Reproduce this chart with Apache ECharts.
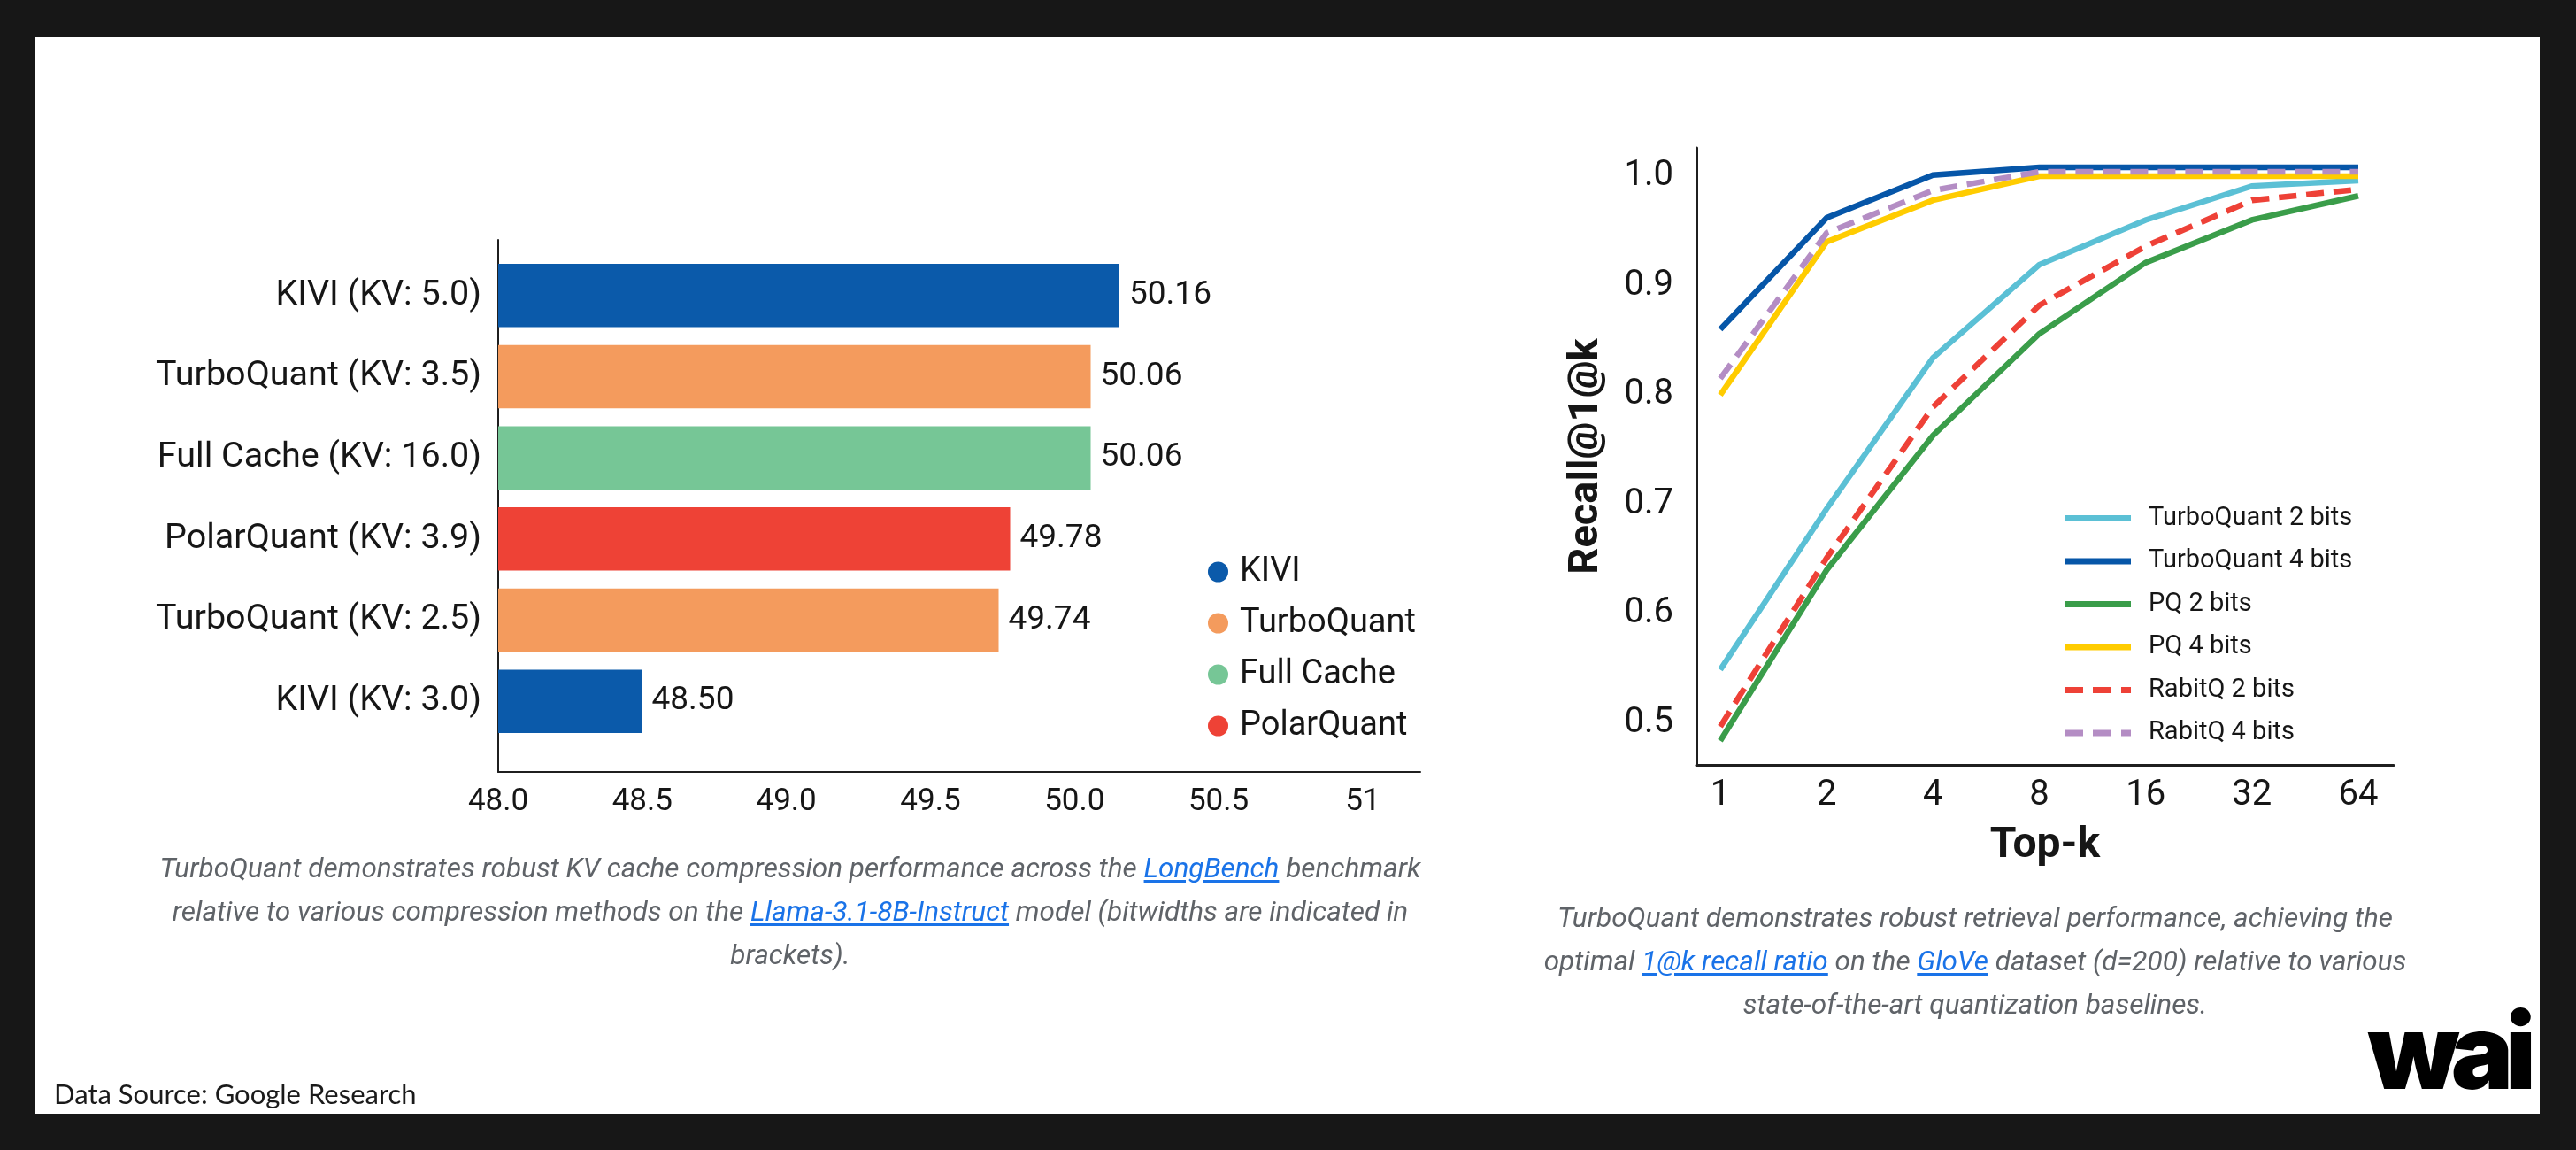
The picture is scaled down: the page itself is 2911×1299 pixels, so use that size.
<!DOCTYPE html>
<html>
<head>
<meta charset="utf-8">
<script src="https://cdn.jsdelivr.net/npm/echarts@6/dist/echarts.min.js"></script>
<style>
  html, body { margin: 0; padding: 0; background: #171717; }
  body { width: 2911px; height: 1299px; position: relative; overflow: hidden; font-family: Roboto, sans-serif; }
  #panel { position: absolute; left: 40px; top: 42px; width: 2830px; height: 1216px; background: #fff; }
  #main { position: absolute; left: 0; top: 0; width: 2911px; height: 1299px; }
  .caption { position: absolute; font-style: italic; font-size: 31.5px; color: #5f6368; text-align: center; white-space: nowrap; line-height: 49px; transform: translateX(-50%); }
  .caption a { color: #1a73e8; text-decoration: underline; text-underline-offset: 3px; }
  #source { position: absolute; left: 61px; top: 1216px; font-family: Lato, sans-serif; font-size: 31px; color: #1a1a1a; }
  #logo { position: absolute; right: 54px; top: 1128px; font-family: Inter, sans-serif; font-weight: 900; font-size: 118px; letter-spacing: -9px; color: #000; line-height: 1; }
</style>
</head>
<body>
<div id="panel"></div>
<div id="main"></div>
<div class="caption" style="left: 893px; top: 956px;">TurboQuant demonstrates robust KV cache compression performance across the <a>LongBench</a> benchmark<br>relative to various compression methods on the <a>Llama-3.1-8B-Instruct</a> model (bitwidths are indicated in<br>brackets).</div>
<div class="caption" style="left: 2232px; top: 1012px;">TurboQuant demonstrates robust retrieval performance, achieving the<br>optimal <a>1@k recall ratio</a> on the <a>GloVe</a> dataset (d=200) relative to various<br>state-of-the-art quantization baselines.</div>
<div id="source">Data Source: Google Research</div>
<div id="logo">wai</div>
<script>
var chartDom = document.getElementById('main');
var myChart = echarts.init(chartDom);
var option;

// left chart: LongBench scores
const barCategories = ['KIVI (KV: 5.0)', 'TurboQuant (KV: 3.5)', 'Full Cache (KV: 16.0)', 'PolarQuant (KV: 3.9)', 'TurboQuant (KV: 2.5)', 'KIVI (KV: 3.0)'];
const barValues = [50.16, 50.06, 50.06, 49.78, 49.74, 48.50];
const barMethods = ['KIVI', 'TurboQuant', 'Full Cache', 'PolarQuant', 'TurboQuant', 'KIVI'];
const methodNames = ['KIVI', 'TurboQuant', 'Full Cache', 'PolarQuant'];
const methodColors = ['#0B5AAA', '#F49B5D', '#76C696', '#EE4236'];

// right chart: recall@1@k on GloVe
const topK = ['1', '2', '4', '8', '16', '32', '64'];
const recallNames = ['TurboQuant 2 bits', 'TurboQuant 4 bits', 'PQ 2 bits', 'PQ 4 bits', 'RabitQ 2 bits', 'RabitQ 4 bits'];
const turboQuant2 = [0.549, 0.696, 0.834, 0.919, 0.960, 0.991, 0.996];
const turboQuant4 = [0.860, 0.962, 1.001, 1.008, 1.008, 1.008, 1.008];
const pq2 = [0.484, 0.640, 0.763, 0.856, 0.921, 0.960, 0.982];
const pq4 = [0.800, 0.940, 0.978, 1.000, 1.000, 1.000, 1.000];
const rabitQ2 = [0.497, 0.651, 0.789, 0.882, 0.936, 0.978, 0.988];
const rabitQ4 = [0.815, 0.948, 0.987, 1.004, 1.004, 1.004, 1.004];
const recallData = [turboQuant2, turboQuant4, pq2, pq4, rabitQ2, rabitQ4];
const recallColors = ['#5BC0D5', '#0656A8', '#3A9D4A', '#FFCC00', '#EE4137', '#B48DC4'];
const recallDashed = [false, false, false, false, true, true];

const AXIS_COLOR = '#1f1f1f';
const TEXT_COLOR = '#161616';
// legend marks for the line chart: a solid bar and a three-dash bar
const SOLID_ICON = 'path://M0,0H74V7H0Z';
const DASH_ICON = 'path://M0,0H20V7H0Z M31,0H52V7H31Z M63,0H74V7H63Z';

function getBarSeries()
{
  return methodNames.map((m, k) => {
    return {
      name: m,
      type: 'bar',
      xAxisIndex: 0,
      yAxisIndex: 0,
      barWidth: '78%',
      barGap: '-100%',
      itemStyle: { color: methodColors[k] },
      label: {
        show: true,
        position: 'right',
        distance: 11,
        fontSize: 37,
        color: TEXT_COLOR,
        formatter: p => p.value.toFixed(2)
      },
      data: barValues.map((v, i) => barMethods[i] == m ? v : '-')
    };
  });
}

function getLineSeries()
{
  return recallNames.map((name, k) => {
    return {
      name: name,
      type: 'line',
      xAxisIndex: 2,
      yAxisIndex: 2,
      symbol: 'none',
      clip: false,
      lineStyle: {
        width: 6.5,
        color: recallColors[k],
        type: recallDashed[k] ? [20, 11] : 'solid',
        join: 'miter'
      },
      itemStyle: { color: recallColors[k] },
      data: recallData[k]
    };
  });
}

function getRecallLegendData()
{
  return recallNames.map((name, k) => {
    return { name: name, icon: recallDashed[k] ? DASH_ICON : SOLID_ICON };
  });
}

function frameAxis(extra)
{
  return Object.assign({
    type: 'value',
    min: 0,
    max: 1,
    axisLine: { show: true, onZero: false, lineStyle: { color: AXIS_COLOR, width: 2 } },
    axisTick: { show: false },
    axisLabel: { show: false },
    splitLine: { show: false }
  }, extra);
}

option = {
  animation: false,
  textStyle: { fontFamily: 'Roboto' },
  legend: [
    {
      data: methodNames,
      orient: 'vertical',
      left: 1360,
      top: 622,
      icon: 'circle',
      itemWidth: 23,
      itemHeight: 23,
      itemGap: 20,
      textStyle: { fontSize: 38, color: TEXT_COLOR, lineHeight: 38, padding: [0, 0, 0, 8] }
    },
    {
      data: getRecallLegendData(),
      orient: 'vertical',
      left: 2329,
      top: 566,
      itemWidth: 74,
      itemHeight: 7,
      itemGap: 19.5,
      symbolKeepAspect: false,
      textStyle: { fontSize: 29, color: TEXT_COLOR, lineHeight: 29, padding: [0, 0, 0, 15] }
    }
  ],
  grid: [
    { left: 563, top: 288, width: 975, height: 550 },
    { left: 563, top: 271, width: 1042, height: 601 },
    { left: 1944, top: 199, width: 721, height: 618 },
    { left: 1917, top: 167, width: 788, height: 697 }
  ],
  xAxis: [
    {
      gridIndex: 0,
      type: 'value',
      min: 48,
      max: 51,
      show: false
    },
    {
      gridIndex: 1,
      type: 'value',
      min: 48,
      max: 51.2,
      interval: 0.5,
      axisLine: { show: true, onZero: false, lineStyle: { color: AXIS_COLOR, width: 2 } },
      axisTick: { show: false },
      splitLine: { show: false },
      axisLabel: {
        fontSize: 35,
        color: TEXT_COLOR,
        margin: 17,
        showMaxLabel: false,
        formatter: v => v == 51 ? '51' : v.toFixed(1)
      }
    },
    {
      gridIndex: 2,
      type: 'category',
      data: topK,
      boundaryGap: false,
      axisLine: { show: false },
      axisTick: { show: false },
      splitLine: { show: false },
      axisLabel: { fontSize: 40, color: TEXT_COLOR, margin: 62 }
    },
    frameAxis({
      gridIndex: 3,
      axisLine: { show: true, onZero: false, lineStyle: { color: AXIS_COLOR, width: 3 } },
      name: 'Top-k',
      nameLocation: 'middle',
      nameGap: 68,
      nameTextStyle: { fontSize: 48, fontWeight: 'bold', color: TEXT_COLOR }
    })
  ],
  yAxis: [
    {
      gridIndex: 0,
      type: 'category',
      data: barCategories,
      inverse: true,
      axisLine: { show: false },
      axisTick: { show: false },
      splitLine: { show: false },
      axisLabel: { fontSize: 39.5, color: TEXT_COLOR, margin: 19 }
    },
    frameAxis({ gridIndex: 1 }),
    {
      gridIndex: 2,
      type: 'value',
      min: 0.5,
      max: 1.0,
      interval: 0.1,
      axisLine: { show: false },
      axisTick: { show: false },
      splitLine: { show: false },
      axisLabel: { fontSize: 40, color: TEXT_COLOR, margin: 53, formatter: v => v.toFixed(1) }
    },
    frameAxis({
      gridIndex: 3,
      axisLine: { show: true, onZero: false, lineStyle: { color: AXIS_COLOR, width: 3 } },
      name: 'Recall@1@k',
      nameLocation: 'middle',
      nameGap: 100,
      nameTextStyle: { fontSize: 47, fontWeight: 'bold', color: TEXT_COLOR }
    })
  ],
  series: getBarSeries().concat(getLineSeries())
};

option && myChart.setOption(option);
</script>
</body>
</html>
